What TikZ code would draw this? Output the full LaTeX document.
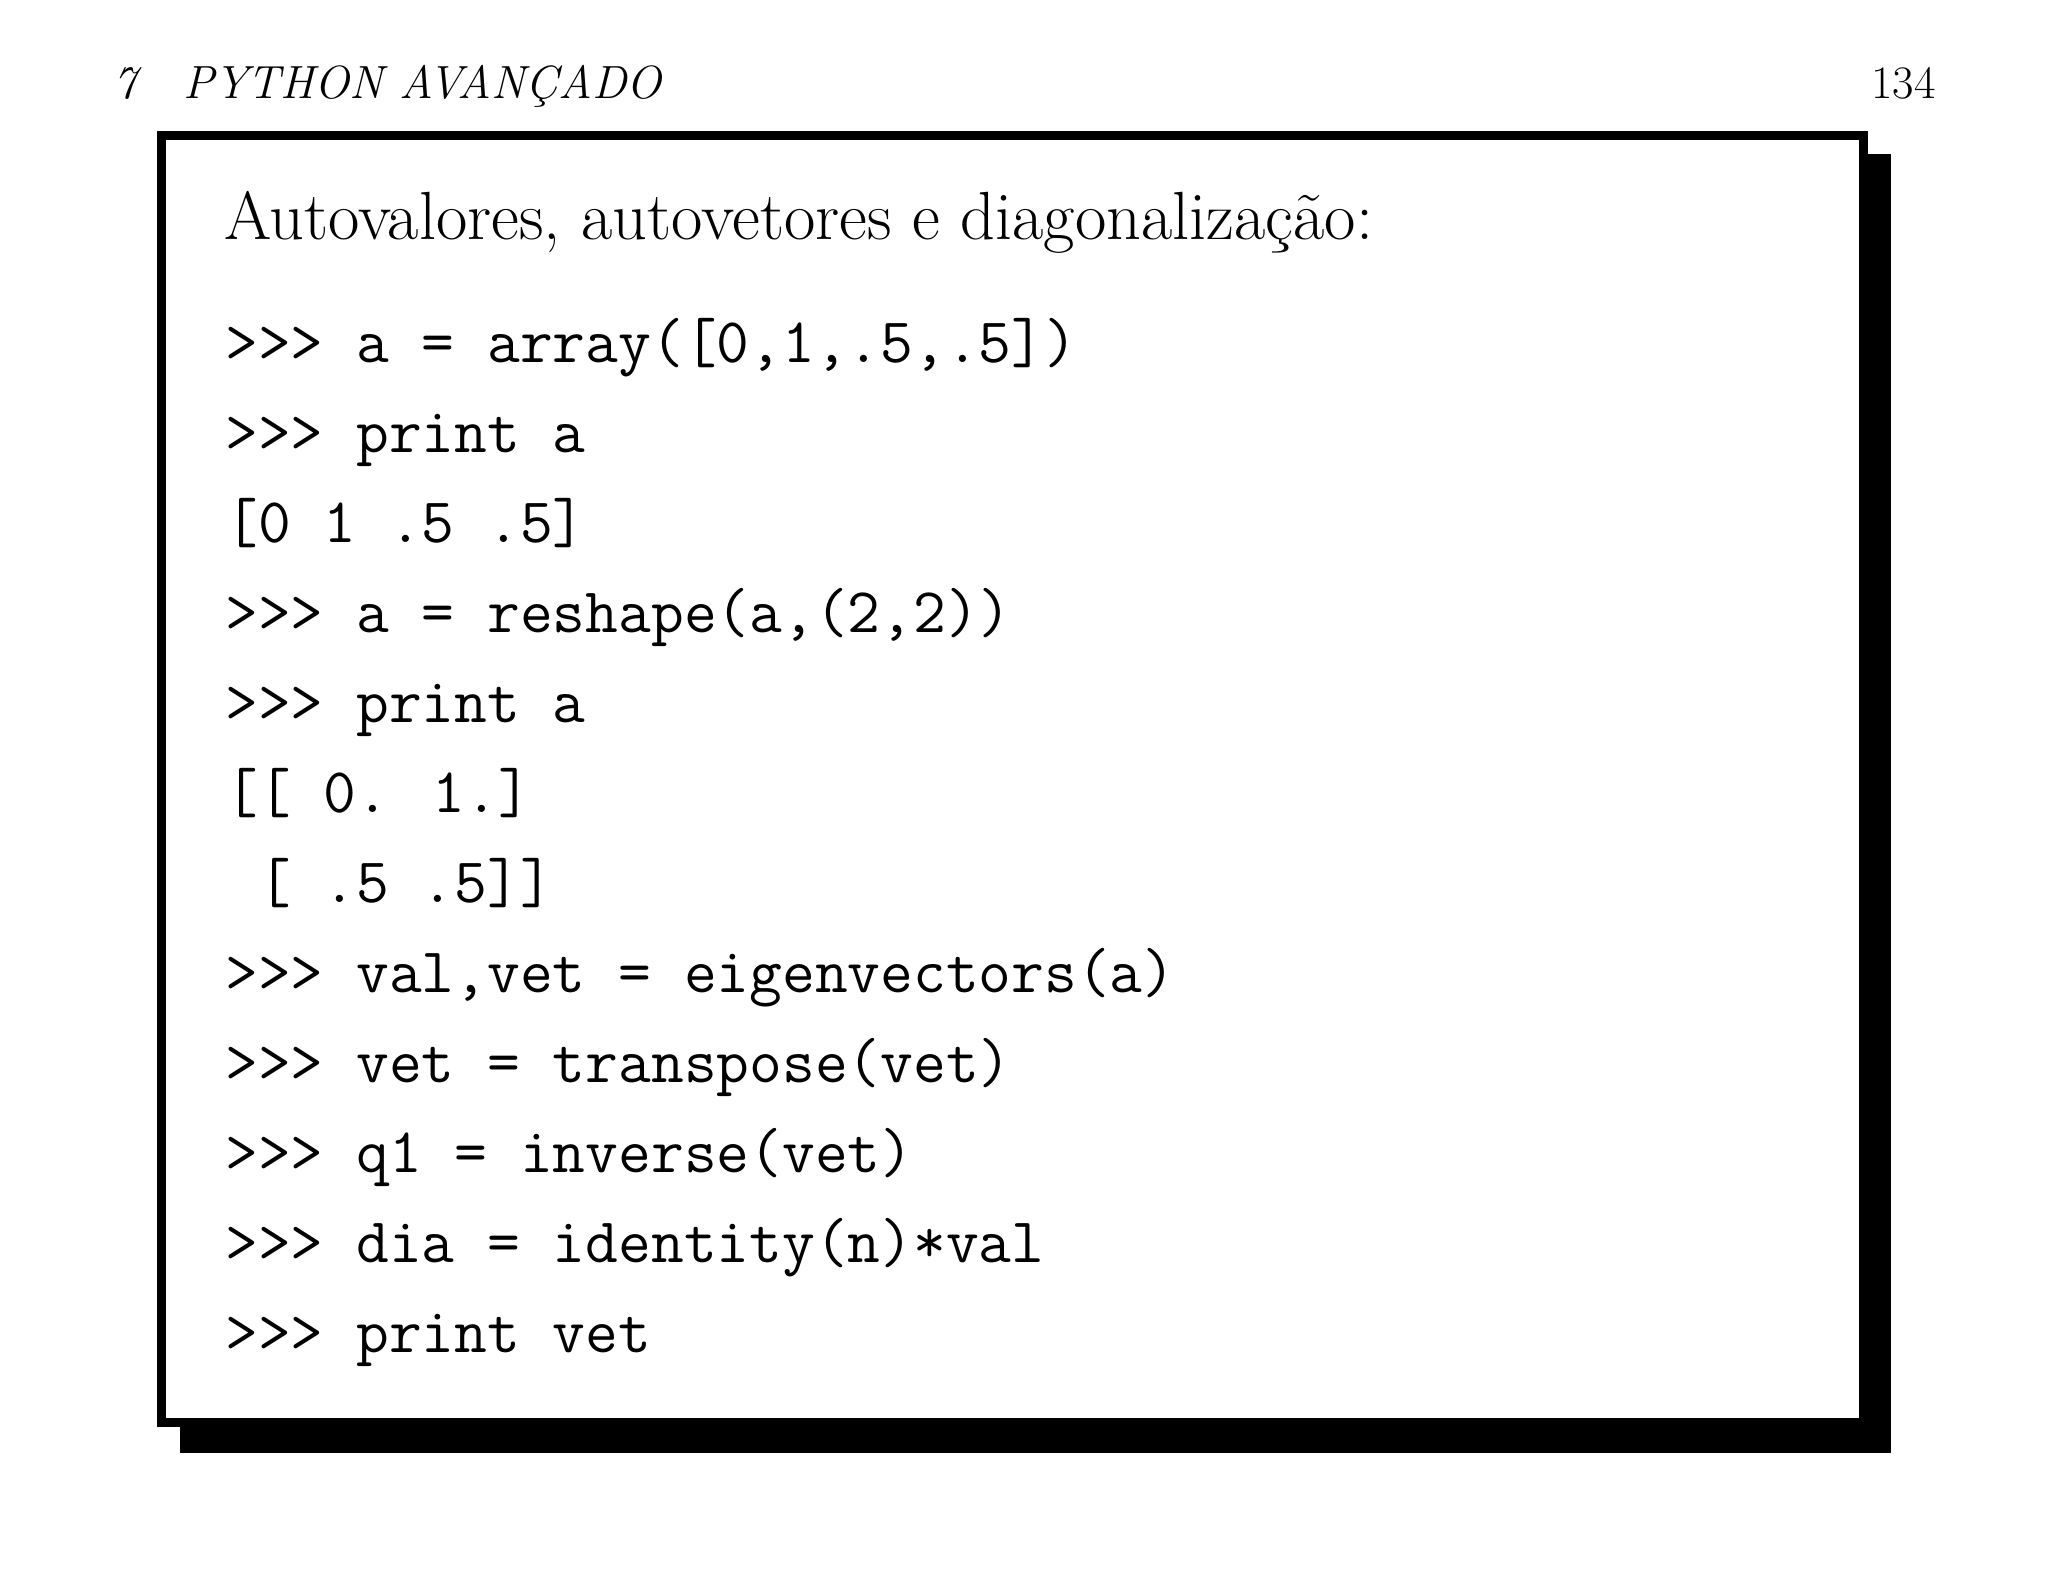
\documentclass[tikz,border=0pt]{standalone}
\usepackage{fontspec}
\begin{document}
\begin{tikzpicture}[x=0.2mm,y=-0.2mm,
  code/.style={anchor=base west,inner sep=0,font=\fontsize{36.2}{42}\selectfont\ttfamily},
  hdr/.style={inner sep=0,font=\fontsize{26.5}{30}\selectfont}]
\useasboundingbox (0,0) rectangle (2048,1582);
\fill[black] (180,154) rectangle (1891,1453);
\fill[white] (157,131) rectangle (1868,1427);
\draw[line width=1.8mm] (161.5,135.5) rectangle (1863.5,1422.5);
\node[hdr,anchor=base west] (h1) at (113,98) {\itshape 7\hspace{1.0em}PYTHON AVANÇADO};
\node[hdr,anchor=base east] (h2) at (1936,98) {134};
\node[anchor=base west,inner sep=0,font=\fontsize{38.8}{44}\selectfont] (t) at (224,239) {Autovalores, autovetores e diagonalização:};
\node[code] (l1) at (225,362) {>>> a = array([0,1,.5,.5])};
\node[code] (l2) at (225,452) {>>> print a};
\node[code] (l3) at (225,542) {[0 1 .5 .5]};
\node[code] (l4) at (225,632) {>>> a = reshape(a,(2,2))};
\node[code] (l5) at (225,722) {>>> print a};
\node[code] (l6) at (225,812) {[[ 0. 1.]};
\node[code] (l7) at (225,902) {\hphantom{x}[ .5 .5]]};
\node[code] (l8) at (225,992) {>>> val,vet = eigenvectors(a)};
\node[code] (l9) at (225,1082) {>>> vet = transpose(vet)};
\node[code] (l10) at (225,1172) {>>> q1 = inverse(vet)};
\node[code] (l11) at (225,1262) {>>> dia = identity(n)*val};
\node[code] (l12) at (225,1352) {>>> print vet};
\end{tikzpicture}
\end{document}
